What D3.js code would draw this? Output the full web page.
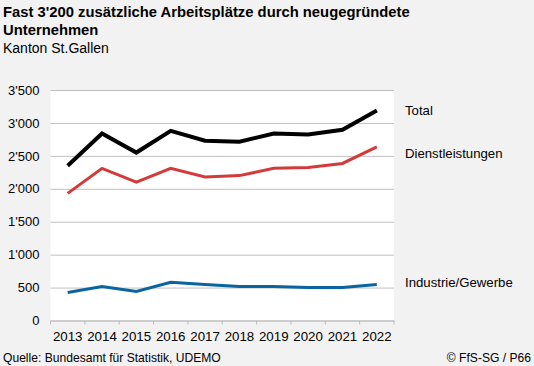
<!DOCTYPE html>
<html>
<head>
<meta charset="utf-8">
<script src="https://cdn.jsdelivr.net/npm/d3@7"></script>
<style>
	body { margin: 0; background: #f2f2f2; }
	svg { display: block; font-family: "Liberation Sans", Arial, sans-serif; }
</style>
</head>
<body>
<div id="chart"></div>
<script>
var years = ['2013', '2014', '2015', '2016', '2017', '2018', '2019', '2020', '2021', '2022'];
var total = [2350, 2840, 2550, 2880, 2730, 2715, 2840, 2825, 2895, 3190];
var dienst = [1930, 2310, 2100, 2310, 2180, 2200, 2310, 2325, 2385, 2635];
var industrie = [425, 515, 440, 580, 545, 515, 515, 500, 500, 545];
var yTicks = [0, 500, 1000, 1500, 2000, 2500, 3000, 3500];

var seriesNames = ['Total', 'Dienstleistungen', 'Industrie/Gewerbe'];
var seriesColors = ['#000000', '#d43a3a', '#0a64a0'];
var seriesWidths = [4, 3, 3];

var chart = (function() {

	var width = 534, height = 366;
	var plot = { left: 50.5, right: 394, top: 90, bottom: 320.5 };

	var init = function() {
		var svg = d3.select('#chart')
					.append('svg')
					.attr('width', width)
					.attr('height', height);

		drawTexts(svg);
		drawPlot(svg);
	}

	var drawTexts = function(svg) {
		svg.append('text').attr('x', 3).attr('y', 17)
			.attr('font-size', 14.8).attr('font-weight', 'bold')
			.text('Fast 3\'200 zusätzliche Arbeitsplätze durch neugegründete');
		svg.append('text').attr('x', 3).attr('y', 35)
			.attr('font-size', 14.8).attr('font-weight', 'bold')
			.text('Unternehmen');
		svg.append('text').attr('x', 3).attr('y', 53)
			.attr('font-size', 14)
			.text('Kanton St.Gallen');
		svg.append('text').attr('x', 3).attr('y', 362)
			.attr('font-size', 12.1)
			.text('Quelle: Bundesamt für Statistik, UDEMO');
		svg.append('text').attr('x', 531).attr('y', 362)
			.attr('font-size', 12.1).attr('text-anchor', 'end')
			.text('© FfS-SG / P66');
	}

	var drawPlot = function(svg) {
		var locale = d3.formatLocale({ decimal: '.', thousands: '\'', grouping: [3], currency: ['', ''] });
		var fmt = locale.format(',');

		var x = d3.scaleBand().domain(years).range([plot.left, plot.right]);
		var y = d3.scaleLinear().domain([0, 3500]).range([plot.bottom, plot.top]);

		svg.append('rect')
			.attr('x', plot.left).attr('y', plot.top)
			.attr('width', plot.right - plot.left).attr('height', plot.bottom - plot.top)
			.attr('fill', '#ffffff');

		// gridlines + y labels
		var yAxis = svg.append('g')
			.attr('transform', 'translate(' + plot.left + ',0)')
			.call(d3.axisLeft(y).tickValues(yTicks).tickFormat(fmt)
				.tickSize(-(plot.right - plot.left)).tickPadding(11));
		yAxis.select('.domain').remove();
		yAxis.selectAll('line').attr('stroke', '#c0c0c0');
		yAxis.selectAll('text').attr('font-size', 13).attr('fill', '#000')
			.attr('font-family', '"Liberation Sans", Arial, sans-serif');

		// x axis with ticks between categories
		var xAxis = svg.append('g')
			.attr('transform', 'translate(0,' + plot.bottom + ')')
			.call(d3.axisBottom(x).tickSize(0).tickPadding(11));
		xAxis.select('.domain').attr('stroke', '#bfbfbf');
		xAxis.selectAll('text').attr('font-size', 13.3).attr('fill', '#000')
			.attr('font-family', '"Liberation Sans", Arial, sans-serif');

		var bounds = years.map(function(d) { return x(d); }).concat([x(years[years.length - 1]) + x.bandwidth()]);
		svg.append('g').selectAll('line')
			.data(bounds)
			.enter()
				.append('line')
				.attr('x1', function(d) { return d; })
				.attr('x2', function(d) { return d; })
				.attr('y1', plot.bottom)
				.attr('y2', plot.bottom + 4)
				.attr('stroke', '#bfbfbf');

		var line = d3.line()
			.x(function(d, i) { return x(years[i]) + x.bandwidth() / 2; })
			.y(function(d) { return y(d); });

		var allSeries = [total, dienst, industrie];
		svg.append('g').selectAll('path')
			.data(allSeries)
			.enter()
				.append('path')
				.attr('d', line)
				.attr('fill', 'none')
				.attr('stroke', function(d, i) { return seriesColors[i]; })
				.attr('stroke-width', function(d, i) { return seriesWidths[i]; })
				.attr('stroke-linejoin', 'miter');

		var labelY = [110, 153, 282];
		svg.append('g').selectAll('text')
			.data(seriesNames)
			.enter()
				.append('text')
				.attr('x', 405)
				.attr('y', function(d, i) { return labelY[i]; })
				.attr('dy', '0.35em')
				.attr('font-size', 13.2)
				.text(function(d) { return d; });
	}

	return { 'init': init };
})();

chart.init();
</script>
</body>
</html>
